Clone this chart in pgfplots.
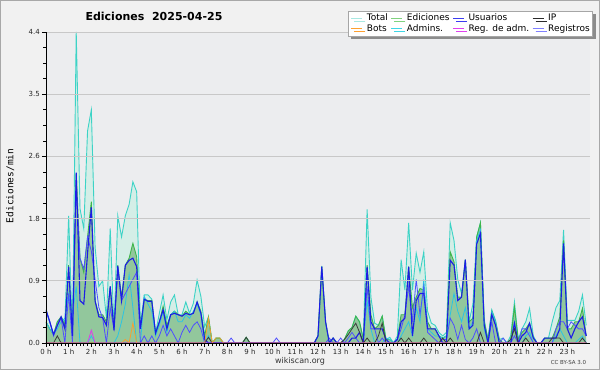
\documentclass[border=0pt]{standalone}
\usepackage{fontspec}
\setmainfont{DejaVu Sans}
\newfontfamily\monofont{DejaVu Sans Mono}
\usepackage{pgfplots}
\usepackage{pgfplotstable}
\pgfplotsset{compat=1.18}
\usetikzlibrary{shadows}
\definecolor{outerbg}{HTML}{F1F1F1}
\definecolor{plotbg}{HTML}{ECEDEF}
\definecolor{framegray}{HTML}{A8A8A8}
\definecolor{gridgray}{HTML}{C8C8C8}
\definecolor{cTot}{HTML}{3CD3C6}
\definecolor{cTotFill}{HTML}{D4EEE7}
\definecolor{cEd}{HTML}{3DB54A}
\definecolor{cEdFill}{HTML}{92C79C}
\definecolor{cUsu}{HTML}{1C1CE6}
\definecolor{cReg}{HTML}{4F4FFF}
\definecolor{cAdm}{HTML}{2BC4E3}
\definecolor{cIP}{HTML}{3A3A3A}
\definecolor{cBot}{HTML}{F5A031}
\definecolor{cRA}{HTML}{E03CE8}
\definecolor{lTot}{HTML}{A8E8E2}
\definecolor{lEd}{HTML}{7FD27F}
\definecolor{lUsu}{HTML}{3C3CF0}
\definecolor{lIP}{HTML}{2A2A2A}
\definecolor{lBot}{HTML}{FFA030}
\definecolor{lAdm}{HTML}{3ED6E6}
\definecolor{lRA}{HTML}{E040F0}
\definecolor{lReg}{HTML}{8080FF}

\pgfplotstableread{
i T E U P B A M R
0 0.47 0.30 0.47 0 0 0.30 0 0.45
1 0.30 0.20 0.30 0 0 0.20 0 0.30
2 0.12 0.12 0.12 0 0 0.12 0 0.10
3 0.30 0.30 0.25 0.10 0 0.20 0 0.25
4 0.37 0.37 0.37 0 0 0.30 0 0.35
5 0.30 0.25 0.20 0 0 0.35 0 0
6 1.80 1.10 1.08 0 0 0.70 0 0.70
7 0.10 0.10 0.10 0 0 0.40 0 0
8 4.40 2.40 2.41 0 0 0.80 0 2.20
9 1.90 1.20 0.60 0 0 0 0 1.20
10 1.62 1.00 0.55 0 0 0 0 1.05
11 3.00 1.50 1.27 0 0 0 0 1.50
12 3.30 2.00 1.92 0 0 0.10 0.18 1.30
13 1.35 0.60 0.59 0 0 0 0 0.90
14 0.80 0.40 0.37 0 0 0 0 0.50
15 0.88 0.40 0.36 0 0 0 0 0.35
16 0.35 0.30 0.25 0 0 0 0 0
17 1.62 0.80 0.80 0 0 0 0 0.50
18 0.20 0.20 0.18 0 0 0 0 0.20
19 1.80 1.10 1.09 0 0 0.10 0 1.05
20 1.50 0.65 0.60 0 0 0.30 0 0.60
21 1.80 1.10 1.10 0 0.05 0.55 0 0.70
22 1.96 1.20 1.17 0 0 0.97 0 0.80
23 2.28 1.41 1.20 0 0.28 0.50 0 0.90
24 2.14 1.22 1.08 0 0 0 0 1.00
25 0.25 0.20 0.20 0 0 0 0 0
26 0.68 0.62 0.62 0 0 0.66 0 0.10
27 0.68 0.60 0.59 0 0 0.55 0 0
28 0.62 0.60 0.59 0 0 0.45 0 0.10
29 0.14 0.14 0.14 0 0 0.10 0 0
30 0.42 0.30 0.30 0 0 0.25 0 0.10
31 0.68 0.52 0.47 0 0 0.45 0 0.25
32 0.33 0.25 0.20 0 0 0.15 0 0.10
33 0.58 0.40 0.40 0 0 0.40 0 0.20
34 0.68 0.45 0.42 0 0 0.45 0 0.10
35 0.40 0.40 0.40 0 0 0.30 0 0
36 0.40 0.38 0.38 0 0 0.30 0 0.15
37 0.58 0.45 0.42 0 0 0.40 0 0.25
38 0.42 0.40 0.40 0 0 0.35 0 0.15
39 0.56 0.42 0.42 0 0 0.45 0 0.25
40 0.89 0.58 0.58 0 0 0.55 0 0.30
41 0.66 0.45 0.42 0 0 0.40 0 0.20
42 0.23 0.10 0.05 0 0 0 0 0
43 0.37 0.37 0 0.08 0.35 0.10 0 0
44 0 0 0 0 0 0 0 0
45 0.07 0.07 0 0 0.07 0 0 0
46 0.07 0.07 0 0 0.07 0 0 0
47 0 0 0 0 0 0 0 0
48 0 0 0 0 0 0 0 0
49 0 0 0 0 0 0 0 0.07
50 0 0 0 0 0 0 0 0
51 0 0 0 0 0 0 0 0
52 0 0 0 0 0 0 0 0
53 0.08 0.08 0 0.08 0 0 0 0
54 0 0 0 0 0 0 0 0
55 0 0 0 0 0 0 0 0
56 0 0 0 0 0 0 0 0
57 0 0 0 0 0 0 0 0
58 0 0 0 0 0 0 0 0
59 0 0 0 0 0 0 0 0
60 0 0 0 0 0 0 0 0
61 0 0 0 0 0 0 0 0.07
62 0 0 0 0 0 0 0 0
63 0 0 0 0 0 0 0 0
64 0 0 0 0 0 0 0 0
65 0 0 0 0 0 0 0 0
66 0 0 0 0 0 0 0 0
67 0 0 0 0 0 0 0 0
68 0 0 0 0 0 0 0 0
69 0 0 0 0 0 0 0 0
70 0 0 0 0 0 0 0 0
71 0 0 0 0 0 0 0 0
72 0.10 0.10 0.10 0 0 0 0 0
73 1.09 1.08 1.08 0 0 0 0 0
74 0.30 0.30 0.30 0 0 0 0 0
75 0 0 0 0 0 0 0 0.07
76 0.07 0.07 0.07 0 0 0 0 0
77 0 0 0 0 0 0 0 0
78 0 0 0 0 0 0 0 0.07
79 0.05 0.05 0 0.05 0 0 0 0
80 0.17 0.17 0 0.12 0 0 0 0.07
81 0.22 0.22 0.07 0.20 0 0 0 0.15
82 0.38 0.38 0.07 0.28 0 0 0 0.07
83 0.30 0.30 0.15 0.15 0 0 0 0
84 0.05 0.05 0 0 0 0 0 0
85 1.89 1.10 1.08 0.07 0 0.60 0 0.80
86 0.65 0.40 0.30 0 0 0.20 0 0.20
87 0.28 0.20 0.20 0 0 0 0 0.20
88 0.25 0.25 0.20 0.10 0 0 0 0
89 0.38 0.38 0.20 0.28 0 0 0 0.07
90 0.05 0.05 0.05 0 0 0.07 0 0
91 0.08 0.05 0 0 0 0.05 0 0
92 0 0 0 0 0 0 0 0
93 0.10 0.05 0.05 0 0 0 0 0.05
94 1.18 0.40 0.30 0.07 0 0.10 0 0.20
95 0.75 0.40 0.35 0 0 0.20 0 0.40
96 1.70 1.08 1.08 0.07 0 0.30 0 0.80
97 0.75 0.50 0.10 0 0 0.10 0 0.30
98 1.27 0.65 0.60 0 0 0.50 0 0.90
99 1.00 0.77 0.70 0 0 0.30 0 0.40
100 1.29 0.75 0.70 0.07 0 0.90 0 0.80
101 0.45 0.30 0.20 0 0 0.20 0 0.15
102 0.28 0.20 0.20 0 0 0.15 0 0.10
103 0.25 0.20 0.20 0 0 0.10 0 0.05
104 0.15 0.10 0.10 0 0 0.10 0 0
105 0.10 0.07 0 0.07 0 0.07 0 0.05
106 0.15 0.10 0 0 0 0.10 0 0.05
107 1.70 1.29 1.17 0.07 0 0.40 0 0.35
108 1.45 1.15 1.10 0 0 0.70 0 0.25
109 0.90 0.65 0.60 0 0 0.45 0 0.05
110 0.70 0.65 0.65 0 0 0.30 0 0.25
111 1.18 1.18 1.18 0 0 0.50 0 0.05
112 0.30 0.30 0.20 0 0 0.20 0 0
113 0.55 0.35 0.25 0 0 0.30 0 0.07
114 1.50 1.50 1.40 0 0 1.45 0 0.20
115 1.70 1.70 1.55 0.15 0 1.60 0 0
116 0.33 0.30 0.25 0 0 0.20 0 0
117 0.05 0.05 0 0 0 0 0 0
118 0.47 0.45 0.40 0 0 0.45 0 0.30
119 0.32 0.30 0.25 0 0 0.30 0 0
120 0.05 0.05 0 0 0 0 0 0
121 0.07 0 0 0 0 0 0 0.07
122 0 0 0 0 0 0 0 0
123 0.10 0.05 0 0.05 0 0 0 0
124 0.58 0.51 0.28 0.20 0 0.30 0 0.10
125 0.05 0.05 0 0 0 0 0 0
126 0.20 0.15 0.10 0 0 0 0 0.20
127 0.30 0.20 0.15 0.07 0 0.10 0 0.20
128 0.49 0.28 0.28 0 0 0.15 0 0.10
129 0.10 0.07 0.07 0 0 0 0 0
130 0 0 0 0 0 0 0 0
131 0 0 0 0 0 0 0 0
132 0.07 0.07 0.07 0 0 0 0 0
133 0.07 0.07 0.07 0 0 0 0 0
134 0.30 0.07 0.07 0.07 0 0 0 0
135 0.50 0.20 0.07 0.07 0 0.10 0 0.20
136 0.60 0.37 0.20 0.07 0 0.20 0 0.30
137 1.60 1.45 1.41 0 0 0.10 0 0.30
138 0.32 0.20 0.20 0 0 0 0 0.20
139 0.32 0.20 0.07 0 0 0 0 0.30
140 0.32 0.30 0.20 0 0 0 0 0.25
141 0.45 0.30 0.30 0 0 0.05 0 0.20
142 0.68 0.49 0.37 0.07 0 0.10 0 0.20
143 0.25 0.10 0.10 0 0 0 0 0.10
}\data

\begin{document}
\begin{tikzpicture}[x=1pt,y=1pt]
\fill[outerbg] (0,0) rectangle (600,370);
\draw[framegray, line width=1pt] (0.5,0.5) rectangle (599.5,369.5);
\path[use as bounding box] (0,0) rectangle (600,370);
\begin{axis}[
  at={(46pt,27pt)}, anchor=south west,
  scale only axis, width=544pt, height=311pt,
  xmin=0, xmax=144, ymin=0, ymax=4.4,
  axis background/.style={fill=plotbg},
  axis on top,
  axis x line*=bottom, axis y line*=left,
  axis line style={black, line width=0.8pt, -},
  xtick={0,6,...,138},
  xticklabels={0 h,1 h,2 h,3 h,4 h,5 h,6 h,7 h,8 h,9 h,10 h,11 h,12 h,13 h,14 h,15 h,16 h,17 h,18 h,19 h,20 h,21 h,22 h,23 h},
  minor x tick num=5,
  ytick={0,0.88,1.76,2.64,3.52,4.4},
  yticklabels={0.0,0.9,1.8,2.6,3.5,4.4},
  minor y tick num=3,
  tick align=outside,
  major tick length=4pt, minor tick length=2.5pt,
  tick style={black, line width=0.6pt},
  ymajorgrids, grid style={gridgray, line width=0.6pt},
  ticklabel style={font=\fontsize{7}{8}\selectfont, text=black!85},
  xticklabel style={inner sep=1.5pt},
  yticklabel style={inner sep=2pt},
  title={Ediciones\ \ 2025-04-25},
  title style={at={(0.1985,1.031)}, anchor=center, font=\bfseries\fontsize{11}{12}\selectfont},
  ylabel={Ediciones/min},
  ylabel style={at={(-0.066,0.505)}, anchor=center, font=\monofont\fontsize{9.5}{10}\selectfont},
  legend columns=4,
  legend cell align=left,
  legend image code/.code={\draw[#1] (0pt,0pt) -- (11pt,0pt);},
  legend style={at={(1.0055,1.0675)}, anchor=north east,
    draw=gray!70, fill=white, line width=0.6pt,
    font=\fontsize{9}{9}\selectfont,
    inner xsep=3pt, inner ysep=3pt, row sep=2pt,
    drop shadow={shadow xshift=3pt, shadow yshift=-3pt, fill=gray!90, opacity=1},
    nodes={inner sep=0pt, text height=6.5pt, text depth=1.8pt},
    /tikz/every odd column/.append style={column sep=4pt},
    /tikz/every even column/.append style={column sep=3pt}},
  no markers,
]
\addlegendimage{lTot, line width=0.9pt}
\addlegendentry{Total}
\addlegendimage{lEd, line width=0.9pt}
\addlegendentry{Ediciones}
\addlegendimage{lUsu, line width=0.9pt}
\addlegendentry{Usuarios}
\addlegendimage{lIP, line width=0.9pt}
\addlegendentry{IP}
\addlegendimage{lBot, line width=0.9pt}
\addlegendentry{Bots}
\addlegendimage{lAdm, line width=0.9pt}
\addlegendentry{Admins.}
\addlegendimage{lRA, line width=0.9pt}
\addlegendentry{Reg. de adm.}
\addlegendimage{lReg, line width=0.9pt}
\addlegendentry{Registros}

\addplot[fill=cTotFill, draw=none, forget plot] table[x=i,y=T]{\data} \closedcycle;
\addplot[fill=cEdFill, draw=none, forget plot] table[x=i,y=E]{\data} \closedcycle;
\addplot[cTot, line width=0.9pt, forget plot] table[x=i,y=T]{\data};
\addplot[cEd, line width=0.9pt, forget plot] table[x=i,y=E]{\data};
\addplot[cAdm, line width=0.8pt, forget plot] table[x=i,y=A]{\data};
\addplot[cReg, line width=0.8pt, forget plot] table[x=i,y=R]{\data};
\addplot[cUsu, line width=1.1pt, forget plot] table[x=i,y=U]{\data};
\addplot[cIP, line width=0.8pt, forget plot] table[x=i,y=P]{\data};
\addplot[cBot, line width=0.8pt, forget plot] table[x=i,y=B]{\data};
\addplot[cRA, line width=0.8pt, forget plot] table[x=i,y=M]{\data};
\end{axis}
\node[font=\fontsize{8}{9}\selectfont, text=black!80] at (300,9) {wikiscan.org};
\node[font=\fontsize{5.5}{6}\selectfont, text=black!75] at (568.5,8) {CC BY-SA 3.0};
\end{tikzpicture}
\end{document}
